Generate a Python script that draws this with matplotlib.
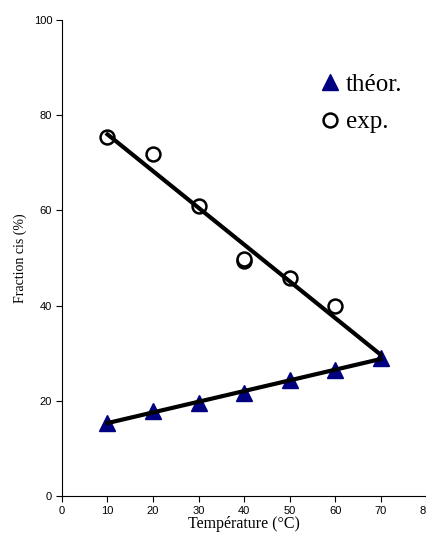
import numpy as np
import matplotlib.pyplot as plt

# données
temp_theor = [10, 20, 30, 40, 50, 60, 70]
cis_theor = [15.3, 17.9, 19.6, 21.7, 24.4, 26.5, 28.9]
temp_exp = [10, 20, 30, 40, 40, 50, 60]
cis_exp = [75.4, 71.8, 60.9, 49.4, 49.8, 45.8, 39.9]

xticks = [0, 10, 20, 30, 40, 50, 60, 70, 80]
yticks = [0, 20, 40, 60, 80, 100]

fig = plt.figure(figsize=(4.27, 5.34), dpi=100)
ax = fig.add_axes([0.145, 0.0712, 0.853, 0.8913])

# droites de tendance (régression linéaire jusqu'à 70 °C)
xfit = np.array([10, 70])
p_th = np.polyfit(temp_theor, cis_theor, 1)
p_ex = np.polyfit(temp_exp, cis_exp, 1)

ax.plot(temp_theor, cis_theor, linestyle='none', marker='^', markersize=11,
        color='#000080', label='théor.', zorder=2)
ax.plot(temp_exp, cis_exp, linestyle='none', marker='o', markersize=10,
        markerfacecolor='white', markeredgecolor='black', markeredgewidth=1.8,
        label='exp.', zorder=2)
ax.plot(xfit, np.polyval(p_th, xfit), color='black', lw=3, zorder=3)
ax.plot(xfit, np.polyval(p_ex, xfit), color='black', lw=3, zorder=3)

ax.set_xlim(0, 80)
ax.set_ylim(0, 100)
ax.set_xticks(xticks)
ax.set_yticks(yticks)
ax.tick_params(direction='out', length=4, width=0.8, labelsize=8, pad=3)
for lab in ax.get_xticklabels() + ax.get_yticklabels():
    lab.set_fontfamily('Liberation Sans')
    lab.set_clip_on(False)
ax.spines['top'].set_visible(False)
ax.spines['right'].set_visible(False)

ax.set_xlabel('Température (°C)', fontfamily='Liberation Serif', fontsize=11.5, labelpad=0.5)
ax.set_ylabel('Fraction cis (%)', fontfamily='Liberation Serif', fontsize=10, labelpad=5)

ax.legend(loc='upper left', bbox_to_anchor=(0.673, 0.914), frameon=False,
          prop={'family': 'Liberation Serif', 'size': 18}, handlelength=0.8,
          handletextpad=0.25, labelspacing=0.6, borderpad=0)

plt.savefig('out.png', dpi=100)
